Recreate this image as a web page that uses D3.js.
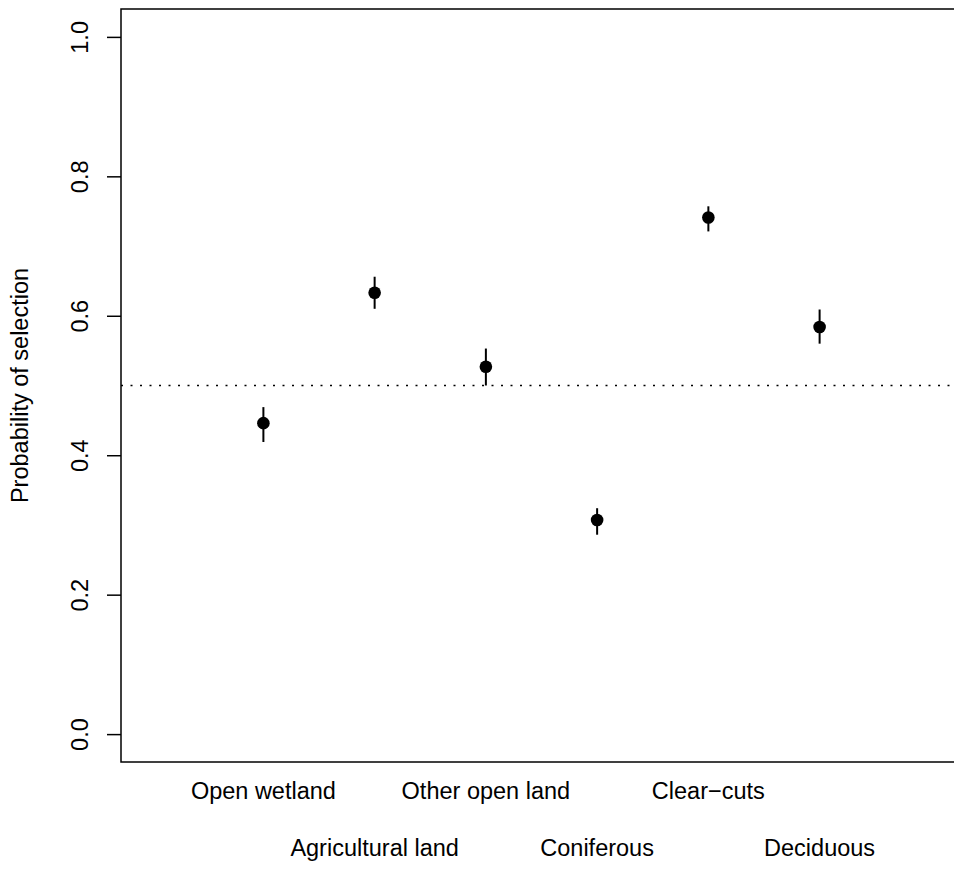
<!DOCTYPE html>
<html>
<head>
<meta charset="utf-8">
<script src="https://cdn.jsdelivr.net/npm/d3@7"></script>
<style>
  body { margin: 0; background: #fff; }
  svg { display: block; font-family: "Liberation Sans", Arial, sans-serif; }
</style>
</head>
<body>
<div id="chart"></div>
<script>
// habitat categories and estimates
const habitats = ["Open wetland", "Agricultural land", "Other open land", "Coniferous", "Clear\u2212cuts", "Deciduous"];
const estimate = [0.446, 0.633, 0.527, 0.307, 0.741, 0.584];
const lower = [0.419, 0.610, 0.500, 0.286, 0.721, 0.560];
const upper = [0.469, 0.656, 0.553, 0.324, 0.757, 0.609];
const yTicks = [0, 0.2, 0.4, 0.6, 0.8, 1.0];
const refLevel = 0.5;

const width = 954, height = 880;
const plot = { left: 121, top: 9, right: 962, bottom: 762 };
const fontSize = "23.5px";

const svg = d3.select("#chart").append("svg")
    .attr("width", width)
    .attr("height", height);

// R style: xlim 0..7, ylim 0..1, each padded 4%
const x = d3.scaleLinear().domain([-0.28, 7.28]).range([plot.left, plot.right]);
const y = d3.scaleLinear().domain([-0.04, 1.04]).range([plot.bottom, plot.top]);

// reference line at 0.5
svg.append("line")
    .attr("x1", plot.left).attr("x2", plot.right)
    .attr("y1", y(refLevel)).attr("y2", y(refLevel))
    .attr("stroke", "#000")
    .attr("stroke-width", 1.5)
    .attr("stroke-dasharray", "2,7.5");

// error bars
svg.append("g").selectAll("line")
    .data(habitats)
    .join("line")
    .attr("x1", (d, i) => x(i + 1))
    .attr("x2", (d, i) => x(i + 1))
    .attr("y1", (d, i) => y(lower[i]))
    .attr("y2", (d, i) => y(upper[i]))
    .attr("stroke", "#000")
    .attr("stroke-width", 2);

// points
svg.append("g").selectAll("circle")
    .data(habitats)
    .join("circle")
    .attr("cx", (d, i) => x(i + 1))
    .attr("cy", (d, i) => y(estimate[i]))
    .attr("r", 6.3)
    .attr("fill", "#000");

// y axis
svg.append("g")
    .attr("transform", `translate(${plot.left},0)`)
    .call(d3.axisLeft(y).tickValues(yTicks).tickFormat(d3.format(".1f")).tickSize(14).tickPadding(0))
    .call(g => g.select(".domain").remove())
    .call(g => g.selectAll(".tick line").attr("stroke", "#000").attr("stroke-width", 1.5))
    .call(g => g.selectAll(".tick text")
        .attr("x", 0).attr("dy", 0)
        .attr("transform", "translate(-41,0) rotate(-90)")
        .attr("text-anchor", "middle")
        .attr("dominant-baseline", "central")
        .attr("fill", "#000")
        .attr("font-size", fontSize));

// box (right side falls off the canvas)
svg.append("rect")
    .attr("x", plot.left).attr("y", plot.top)
    .attr("width", plot.right - plot.left)
    .attr("height", plot.bottom - plot.top)
    .attr("fill", "none")
    .attr("stroke", "#000")
    .attr("stroke-width", 1.5);

// x labels, alternating rows
svg.append("g").selectAll("text")
    .data(habitats)
    .join("text")
    .attr("x", (d, i) => x(i + 1))
    .attr("y", (d, i) => i % 2 === 0 ? 799 : 856)
    .attr("text-anchor", "middle")
    .attr("font-size", fontSize)
    .attr("fill", "#000")
    .text(d => d);

// y title
svg.append("text")
    .attr("transform", `translate(28,${(plot.top + plot.bottom) / 2}) rotate(-90)`)
    .attr("text-anchor", "middle")
    .attr("font-size", fontSize)
    .attr("fill", "#000")
    .text("Probability of selection");
</script>
</body>
</html>
